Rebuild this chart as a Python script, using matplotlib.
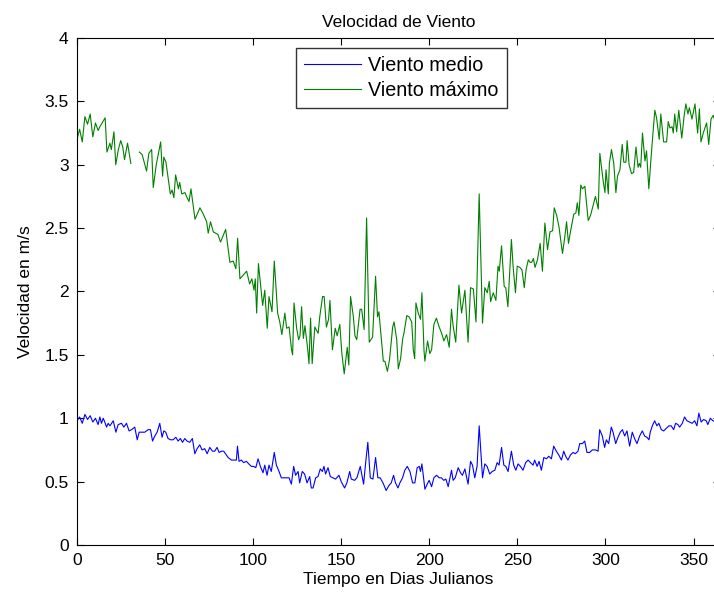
import numpy as np
import matplotlib.pyplot as plt
from matplotlib.ticker import FormatStrFormatter, MultipleLocator

plt.rcParams['font.family'] = ['Liberation Sans', 'DejaVu Sans']

# dia juliano / velocidad (m/s)
dias_max = [0, 1.5, 3, 4.5, 6, 7.5, 9, 10.5, 12, 13, 16, 17, 18.7, 19.5, 21, 22, 23.5, 24.8, 26, 27,
            28.7, 30.6, 33, 35.4, 37, 39.5, 40.8, 42.4, 43.3, 45, 47.5, 48.6, 49.3, 50.5, 51.6, 53, 54, 55, 56, 57.6,
            58.3, 59.5, 61.3, 62.5, 63.6, 64.7, 67, 69.8, 71.7, 73.6, 74.5, 75.8, 77.4, 80, 81.5, 84.4, 86.8, 88.7, 90.2, 91.2,
            92.5, 96.3, 98, 99.3, 100.5, 101.2, 102, 103, 105.4, 106.6, 108, 109, 110.7, 112, 113.9, 115.1, 116.3, 118, 119, 120.4,
            121.8, 122.4, 123.2, 124.7, 125.8, 126.6, 127.5, 128.5, 129.4, 131, 131.7, 132.6, 133.5, 135, 136.9, 137.8, 139.4, 140.3, 141.6, 142.8,
            143.6, 145, 146.6, 147.7, 149.2, 150.3, 151.7, 153.4, 154.3, 155.3, 156.9, 157.8, 158.8, 160.7, 161.6, 163, 164.4, 165.9, 167.8, 169.5,
            170.6, 171.4, 173.9, 174.8, 176.2, 177.4, 179.2, 180, 181.5, 182.4, 183.7, 184.9, 185.6, 187.2, 188.5, 190, 190.9, 191.7, 192.4, 193.7,
            195, 195.8, 197, 197.5, 199, 200.3, 201.3, 202.6, 204, 205.6, 207, 208.3, 209.8, 211.3, 212.6, 213.5, 215, 216.8, 218.3, 220.2,
            222, 223.4, 225, 226.5, 228.3, 230.2, 231.5, 232.9, 234, 234.8, 236.3, 237.8, 239, 239.7, 241, 242.5, 243.4, 244.6, 246.6, 247.6,
            248.9, 249.9, 251.4, 252.6, 253.9, 254.9, 256.2, 257.2, 258.1, 259.1, 260, 261.4, 262.9, 264.2, 265.6, 267.1, 268.5, 270, 270.9, 272.3,
            273.6, 275.6, 276.9, 277.9, 279, 280.1, 282, 283.2, 284, 284.9, 286, 286.9, 288.3, 290.2, 291.5, 293, 294.3, 295.9, 296.8, 298.7,
            299.7, 300.3, 301.6, 302.2, 303.4, 304.7, 305.9, 306.8, 308.2, 309.5, 310.4, 311.6, 312.3, 313.4, 314.8, 316, 317.3, 318.5, 319.2, 320,
            321, 322.4, 323.3, 324.6, 326.1, 328, 329, 330.5, 331.4, 333, 334.7, 335.6, 336.6, 337.8, 338.5, 339.3, 340.4, 341.6, 343.3, 344.6,
            345.6, 346.8, 347.6, 349.1, 350.8, 352.3, 353.3, 354.2, 355.5, 357.4, 358.6, 359.9, 361.2, 363, 365]
viento_max = [3.20, 3.28, 3.18, 3.38, 3.32, 3.40, 3.22, 3.33, 3.27, 3.30, 3.37, 3.10, 3.17, 3.12, 3.26, 3.00, 3.12, 3.19, 3.14, 3.04,
              3.17, 3.01, np.nan, 3.10, 3.08, 2.95, 3.09, 3.12, 2.82, 3.00, 3.18, 2.91, 3.06, 3.02, 2.91, 2.77, 2.80, 2.74, 2.92, 2.81,
              2.86, 2.77, 2.78, 2.74, 2.71, 2.81, 2.57, 2.66, 2.61, 2.55, 2.46, 2.55, 2.47, 2.45, 2.39, 2.49, 2.23, 2.24, 2.18, 2.42,
              2.10, 2.16, 2.06, 2.10, 2.01, 2.10, 1.83, 2.22, 1.89, 2.01, 1.71, 1.96, 1.84, 2.24, 1.83, 1.76, 1.66, 1.83, 1.71, 1.72,
              1.54, 1.50, 1.91, 1.71, 1.62, 1.65, 1.88, 1.63, 1.73, 1.54, 1.43, 1.79, 1.43, 1.72, 1.67, 1.80, 1.96, 1.96, 1.72, 1.78,
              1.93, 1.54, 1.71, 1.65, 1.74, 1.52, 1.35, 1.56, 1.42, 1.96, 1.80, 1.65, 1.62, 1.86, 1.86, 1.70, 2.58, 1.60, 1.64, 2.12,
              1.80, 1.84, 1.45, 1.45, 1.37, 1.46, 1.72, 1.76, 1.62, 1.39, 1.47, 1.63, 1.67, 1.81, 1.80, 1.76, 1.54, 1.47, 1.91, 1.83,
              1.78, 1.99, 1.53, 1.45, 1.61, 1.51, 1.54, 1.74, 1.79, 1.72, 1.67, 1.61, 1.66, 1.56, 1.86, 1.73, 1.60, 2.05, 1.83, 2.01,
              1.60, 2.03, 2.02, 1.76, 2.77, 1.75, 2.03, 1.99, 2.08, 1.92, 1.99, 1.93, 2.20, 2.16, 2.36, 2.04, 2.03, 1.88, 2.41, 2.19,
              1.99, 2.20, 2.19, 2.17, 2.03, 2.17, 2.25, 2.23, 2.23, 2.26, 2.19, 2.25, 2.38, 2.16, 2.54, 2.33, 2.47, 2.48, 2.66, 2.60,
              2.51, 2.30, 2.43, 2.55, 2.38, 2.47, 2.61, 2.62, 2.70, 2.60, 2.84, 2.81, 2.83, 2.56, 2.60, 2.68, 2.75, 2.65, 3.09, 2.87,
              2.78, 2.96, 2.77, 3.01, 3.12, 3.01, 2.78, 2.91, 2.96, 3.16, 3.02, 3.02, 3.19, 3.00, 2.93, 2.94, 3.14, 2.98, 3.01, 2.98,
              3.25, 3.03, 3.11, 2.81, 3.10, 3.43, 3.37, 3.20, 3.40, 3.18, 3.18, 3.34, 3.29, 3.30, 3.25, 3.40, 3.26, 3.43, 3.21, 3.38,
              3.48, 3.40, 3.45, 3.36, 3.48, 3.25, 3.44, 3.18, 3.25, 3.33, 3.16, 3.36, 3.39, 3.30, 3.35]

dias_medio = [0, 1.5, 3, 4.5, 6, 7.5, 9, 10.5, 12, 13, 13.9, 14.9, 15.8, 16.8, 17.7, 18.7, 20.6, 22.1, 23.4, 25.3,
              26.6, 28.1, 29.6, 31, 32.8, 34.2, 35.3, 36.6, 38.5, 40.4, 41.7, 42.9, 44.2, 45.5, 47, 48.3, 49.3, 50.4, 51.7, 53.1,
              54.6, 56.1, 57.4, 58.7, 59.9, 61.2, 62.5, 64, 65.5, 66.9, 68.2, 69.7, 71, 72.5, 73.9, 75.4, 76.9, 78.2, 79.5, 80.7,
              82, 83.3, 84.8, 85.8, 87.7, 89.5, 90.5, 91.1, 92, 93.3, 94.6, 96.2, 97.5, 99, 100.3, 101.5, 102.8, 104.1, 105.6, 106.6,
              107.9, 109, 110.3, 112, 113.2, 114.7, 116, 117.3, 118.8, 120.4, 121.7, 123, 124.1, 125.5, 126.4, 127.9, 129.2, 130.6, 132.1, 133,
              134, 135.5, 136.8, 138.1, 139.3, 140.2, 141.1, 142.5, 143.8, 145.3, 146.8, 148.7, 150, 151.9, 153.2, 154.8, 155.7, 157.6, 158.9, 160.8,
              162.7, 163.8, 165.1, 166.5, 168, 169.5, 170.8, 172.1, 173.7, 175.5, 177.1, 178.4, 179.7, 180.8, 182.2, 183.3, 184.8, 186.1, 187.5, 189,
              190.5, 191.8, 193.1, 194.3, 195, 195.8, 197.5, 198.8, 199.9, 201.3, 202.6, 204.1, 205.6, 206.9, 208.2, 209.4, 210.7, 211.7, 212.6, 213.5,
              214.7, 216.4, 217.7, 218.8, 220.2, 222, 223.4, 224.5, 225.8, 227.1, 228.3, 230.2, 231.5, 232.8, 234.3, 235.7, 237.2, 238.5, 239.6, 241,
              242.3, 243.4, 244.7, 246.6, 247.9, 249.1, 250.4, 251.7, 253.2, 254.7, 256.1, 257.4, 258.9, 259.8, 261.2, 262.3, 263.6, 265, 266.5, 267.8,
              269.3, 270.6, 272.1, 273.5, 275, 276.3, 277.4, 278.7, 280.1, 281.6, 282.9, 284.4, 285.4, 286.9, 288.2, 289.5, 291, 292.5, 294.4, 295.8,
              296.7, 298.2, 299.5, 300.5, 301.8, 303.3, 304.3, 305.8, 307.1, 308.4, 309.6, 310.9, 312.2, 313.7, 315.2, 316.5, 317.9, 319.4, 320.9, 322.2,
              323.5, 324.7, 325.4, 326.6, 327.9, 329.2, 330.3, 331.7, 333, 334.5, 336, 337.3, 338.7, 339.8, 341.1, 342.1, 343.6, 344.9, 346.2, 347.7,
              349.2, 350.6, 351.9, 353, 354.3, 355.7, 357.2, 358.1, 359.5, 361, 363, 365]
viento_medio = [0.98, 1.01, 0.96, 1.03, 0.99, 1.02, 0.97, 1.00, 0.95, 1.01, 0.96, 1.00, 0.97, 0.93, 0.96, 0.94, 0.98, 0.89, 0.95, 0.96,
                0.93, 0.96, 0.90, 0.91, 0.93, 0.83, 0.89, 0.89, 0.89, 0.91, 0.91, 0.82, 0.86, 0.89, 0.96, 0.85, 0.90, 0.89, 0.84, 0.83,
                0.83, 0.85, 0.82, 0.84, 0.81, 0.84, 0.82, 0.81, 0.84, 0.72, 0.76, 0.79, 0.75, 0.76, 0.72, 0.77, 0.74, 0.74, 0.77, 0.73,
                0.74, 0.74, 0.71, 0.69, 0.67, 0.67, 0.67, 0.78, 0.66, 0.67, 0.65, 0.66, 0.64, 0.62, 0.62, 0.61, 0.68, 0.62, 0.57, 0.63,
                0.55, 0.63, 0.58, 0.73, 0.63, 0.58, 0.53, 0.53, 0.53, 0.53, 0.48, 0.62, 0.55, 0.58, 0.49, 0.58, 0.56, 0.49, 0.54, 0.45,
                0.45, 0.53, 0.54, 0.60, 0.58, 0.62, 0.56, 0.61, 0.54, 0.53, 0.52, 0.55, 0.50, 0.45, 0.49, 0.58, 0.52, 0.51, 0.53, 0.62,
                0.48, 0.64, 0.81, 0.53, 0.52, 0.69, 0.53, 0.53, 0.49, 0.43, 0.47, 0.49, 0.55, 0.49, 0.45, 0.49, 0.53, 0.59, 0.62, 0.58,
                0.49, 0.49, 0.61, 0.62, 0.58, 0.64, 0.44, 0.48, 0.51, 0.46, 0.53, 0.55, 0.53, 0.53, 0.51, 0.52, 0.46, 0.53, 0.59, 0.51,
                0.53, 0.61, 0.57, 0.55, 0.60, 0.48, 0.66, 0.63, 0.53, 0.62, 0.94, 0.53, 0.64, 0.62, 0.56, 0.58, 0.59, 0.65, 0.63, 0.77,
                0.63, 0.62, 0.58, 0.74, 0.63, 0.59, 0.64, 0.62, 0.59, 0.65, 0.67, 0.65, 0.63, 0.67, 0.62, 0.66, 0.59, 0.69, 0.68, 0.70,
                0.68, 0.78, 0.74, 0.71, 0.67, 0.74, 0.70, 0.67, 0.71, 0.73, 0.72, 0.74, 0.80, 0.80, 0.82, 0.73, 0.73, 0.75, 0.75, 0.74,
                0.91, 0.86, 0.77, 0.83, 0.80, 0.93, 0.89, 0.80, 0.85, 0.89, 0.91, 0.86, 0.90, 0.78, 0.89, 0.84, 0.80, 0.86, 0.90, 0.86,
                0.85, 0.83, 0.89, 0.94, 0.98, 0.94, 0.96, 0.91, 0.90, 0.92, 0.94, 0.94, 0.91, 0.96, 0.95, 0.93, 0.96, 1.01, 0.98, 0.97,
                0.96, 0.98, 0.94, 1.04, 0.97, 0.99, 0.98, 0.95, 1.00, 0.98, 0.97, 0.99]

fig = plt.figure(figsize=(7.14, 6.02), dpi=100)
ax = fig.add_axes([0.1078, 0.0947, 0.9006, 0.8422])

ax.plot(dias_medio, viento_medio, color='#0000ff', lw=0.8, label='Viento medio')
ax.plot(dias_max, viento_max, color='#008000', lw=0.8, label='Viento máximo')

ax.set_xlim(0, 365)
ax.set_ylim(0, 4)
ax.xaxis.set_major_locator(MultipleLocator(50))
ax.yaxis.set_major_locator(MultipleLocator(0.5))
ax.yaxis.set_major_formatter(FormatStrFormatter('%g'))
ax.tick_params(direction='in', top=True, right=True, length=5, width=0.8, labelsize=12.5, pad=6)
for s in ax.spines.values():
    s.set_linewidth(0.8)

ax.set_title('Velocidad de Viento', fontsize=12.5, pad=8)
ax.set_xlabel('Tiempo en Dias Julianos', fontsize=12.5, labelpad=3)
ax.set_ylabel('Velocidad en m/s', fontsize=12.5, labelpad=8)

ax.legend(loc='upper center', bbox_to_anchor=(0.5623, 0.920), bbox_transform=fig.transFigure,
          fontsize=14.2, frameon=True, fancybox=False, edgecolor='black', handlelength=2.9,
          borderpad=0.4, labelspacing=0.3, handletextpad=0.35, borderaxespad=0)

plt.savefig('out.png', dpi=100)
plt.close()
